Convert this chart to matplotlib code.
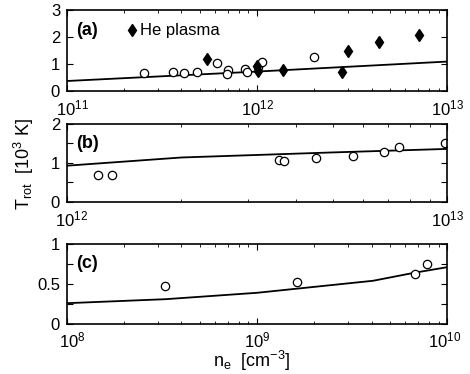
import math
import matplotlib
matplotlib.use("agg")
import matplotlib.pyplot as plt
import matplotlib.transforms as mtransforms
from matplotlib.ticker import LogLocator, NullFormatter

plt.rcParams['font.family'] = ['Liberation Sans', 'DejaVu Sans']
plt.rcParams['mathtext.fontset'] = 'custom'
plt.rcParams['mathtext.rm'] = 'Liberation Sans'
plt.rcParams['mathtext.it'] = 'Liberation Sans'
fs = 12

# panel (a)
a_circ_x = [2.54e11, 3.62e11, 4.14e11, 4.83e11, 6.15e11, 7.0e11, 6.95e11, 8.65e11, 8.85e11, 1.016e12, 1.055e12, 2.0e12]
a_circ_y = [0.67, 0.69, 0.67, 0.69, 1.02, 0.78, 0.63, 0.83, 0.72, 0.89, 1.08, 1.26]
a_dia_x = [5.43e11, 1.0e12, 1.01e12, 1.36e12, 2.8e12, 3.02e12, 4.4e12, 7.06e12]
a_dia_y = [1.20, 0.92, 0.74, 0.79, 0.71, 1.47, 1.80, 2.08]
a_line_x = [1e11, 1e12, 1e13]
a_line_y = [0.37, 0.72, 1.09]
a_xticks = [1e11, 1e12, 1e13]

# panel (b)
b_circ_x = [1.21e12, 1.31e12, 3.61e12, 3.72e12, 4.53e12, 5.64e12, 6.83e12, 7.45e12, 9.86e12]
b_circ_y = [0.70, 0.68, 1.08, 1.06, 1.12, 1.19, 1.29, 1.41, 1.50]
b_line_x = [1e12, 2e12, 5e12, 1e13]
b_line_y = [0.93, 1.14, 1.27, 1.36]
b_xticks = [1e12, 1e13]

# panel (c)
c_circ_x = [3.29e8, 1.63e9, 6.73e9, 7.87e9]
c_circ_y = [0.475, 0.525, 0.63, 0.75]
c_line_x = [1e8, 3.3e8, 1e9, 4.07e9, 6.7e9, 1e10]
c_line_y = [0.26, 0.31, 0.39, 0.54, 0.64, 0.71]
c_xticks = [1e8, 1e9, 1e10]

fig = plt.figure(figsize=(4.7, 3.74), dpi=100)
ax_a = fig.add_axes([0.1426, 0.7567, 0.809, 0.2166])
ax_b = fig.add_axes([0.1426, 0.46, 0.809, 0.2086])
ax_c = fig.add_axes([0.1426, 0.1337, 0.809, 0.214])

circ = dict(linestyle='none', marker='o', markersize=6, markerfacecolor='white',
            markeredgecolor='black', markeredgewidth=0.9)
dia = dict(linestyle='none', marker='d', markersize=6.5, color='black')

ax_a.plot(a_line_x, a_line_y, color='black', lw=1.3)
ax_a.plot(a_circ_x, a_circ_y, **circ)
ax_a.plot(a_dia_x, a_dia_y, **dia)
ax_a.plot([2.2e11], [2.25], **dia)
ax_a.text(2.42e11, 2.25, 'He plasma', fontsize=fs, va='center')
ax_a.set_xlim(1e11, 1e13)
ax_a.set_ylim(0, 3)
ax_a.set_yticks([0, 1, 2, 3])

ax_b.plot(b_line_x, b_line_y, color='black', lw=1.3)
ax_b.plot(b_circ_x, b_circ_y, **circ)
ax_b.set_xlim(1e12, 1e13)
ax_b.set_ylim(0, 2)
ax_b.set_yticks([0, 0.5, 1, 1.5, 2])
ax_b.set_yticklabels(['0', '', '1', '', '2'])

ax_c.plot(c_line_x, c_line_y, color='black', lw=1.3)
ax_c.plot(c_circ_x, c_circ_y, **circ)
ax_c.set_xlim(1e8, 1e10)
ax_c.set_ylim(0, 1)
ax_c.set_yticks([0, 0.25, 0.5, 0.75, 1])
ax_c.set_yticklabels(['0', '', '0.5', '', '1'])

# per-label horizontal nudges (px), like the original keeps end labels inside
shifts = {ax_a: (5, 0), ax_b: (5, 0), ax_c: (5, -3)}

for ax, lab, xt in zip([ax_a, ax_b, ax_c], ['(a)', '(b)', '(c)'], [a_xticks, b_xticks, c_xticks]):
    ax.set_xscale('log')
    ax.set_xticks(xt)
    ax.set_xticklabels([r'10$^{%d}$' % round(math.log10(v)) for v in xt])
    ax.xaxis.set_minor_locator(LogLocator(base=10, subs=range(2, 10), numticks=20))
    ax.xaxis.set_minor_formatter(NullFormatter())
    ax.tick_params(which='both', direction='in', top=True, right=True, labelsize=fs)
    ax.tick_params(axis='y', pad=5)
    ax.tick_params(axis='x', pad=5.5 if ax is not ax_c else 5)
    ax.tick_params(which='major', length=4, width=0.8)
    ax.tick_params(which='minor', length=2, width=0.6)
    for s in ax.spines.values():
        s.set_linewidth(1.2)
    ax.text(0.025, 0.75, lab, transform=ax.transAxes, fontsize=fs + 1, fontweight='bold', va='center')

for ax, (first, last) in shifts.items():
    labels = ax.get_xticklabels()
    for t, dx in ((labels[0], first), (labels[-1], last)):
        off = mtransforms.ScaledTranslation(dx / 100, 0, fig.dpi_scale_trans)
        t.set_transform(t.get_transform() + off)

fig.text(0.05, 0.56, r'T$_{\rm rot}$  [10$^{3}$ K]', rotation=90, fontsize=fs + 1, ha='center', va='center')
ax_c.set_xlabel(r'n$_{\rm e}$  [cm$^{-3}$]', fontsize=fs + 1, va='top')
ax_c.xaxis.set_label_coords(0.487, -0.31)

fig.savefig("out.png", dpi=100)
